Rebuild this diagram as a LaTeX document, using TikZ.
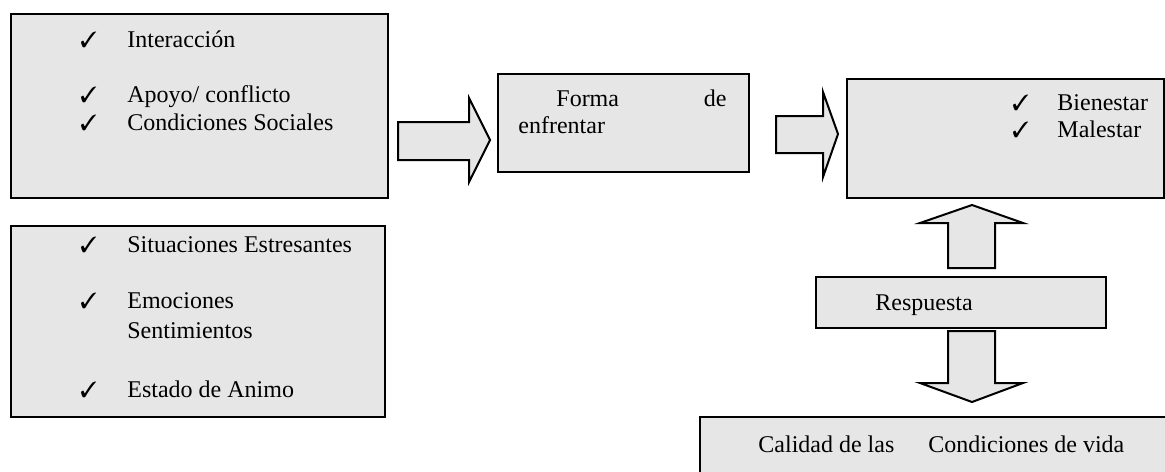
\documentclass[tikz,border=0pt]{standalone}
\usepackage{fontspec}
\setmainfont{Liberation Serif}
\usepackage{pifont}
\usepackage{tikz}
\usetikzlibrary{positioning}

\definecolor{boxgray}{HTML}{E6E6E6}
\newcommand{\chk}{\ding{51}}

\tikzset{
	box/.style={draw, line width=1pt, fill=boxgray, inner sep=0pt, anchor=north west},
	txt/.style={anchor=base west, inner sep=0pt, font=\fontsize{12}{14}\selectfont},
	chkmark/.style={anchor=base west, inner sep=0pt, font=\fontsize{11}{14}\selectfont},
	blockarrow/.style={draw, line width=1pt, fill=boxgray, line join=miter}
}

\begin{document}
\begin{tikzpicture}[x=0.5pt,y=-0.5pt]
		\useasboundingbox (0,0) rectangle (1165,471);
		\clip (0,0) rectangle (1165,471);
		% cajas
		\node[box, minimum width=188.5pt, minimum height=92pt] (social) at (10,13) {};
		\node[box, minimum width=187pt, minimum height=95.5pt] (estres) at (10,225) {};
		\node[box, minimum width=125.5pt, minimum height=49pt] (forma) at (497,73) {};
		\node[box, minimum width=158.5pt, minimum height=59.5pt] (estado) at (846,78) {};
		\node[box, minimum width=145pt, minimum height=25.5pt] (respuesta) at (815,276) {};
		\node[box, minimum width=250pt, minimum height=40pt] (calidad) at (699,416) {};
		% textos
		\node[chkmark] (c1) at (80,47) {\chk};
		\node[txt] (t1) at (127,47) {Interacción};
		\node[chkmark] (c2) at (80,102) {\chk};
		\node[txt] (t2) at (127,102) {Apoyo/ conflicto};
		\node[chkmark] (c3) at (80,130) {\chk};
		\node[txt] (t3) at (127,130) {Condiciones Sociales};
		\node[chkmark] (c4) at (80,252) {\chk};
		\node[txt] (t4) at (127,252) {Situaciones Estresantes};
		\node[chkmark] (c5) at (80,308) {\chk};
		\node[txt] (t5) at (127,308) {Emociones};
		\node[txt] (t6) at (127,338) {Sentimientos};
		\node[chkmark] (c7) at (80,397) {\chk};
		\node[txt] (t7) at (127,397) {Estado de Animo};
		\node[txt] (f1) at (556,106) {Forma};
		\node[txt, anchor=base east] (f2) at (727,106) {de};
		\node[txt] (f3) at (518,133) {enfrentar};
		\node[chkmark] (c8) at (1012,110) {\chk};
		\node[txt] (b1) at (1057,110) {Bienestar};
		\node[chkmark] (c9) at (1012,137) {\chk};
		\node[txt] (b2) at (1057,137) {Malestar};
		\node[txt] (r1) at (875,310) {Respuesta};
		\node[txt] (q1) at (758,452) {Calidad de las};
		\node[txt] (q2) at (928,452) {Condiciones de vida};
		% flechas
		\draw[blockarrow] (398,122) -- (469,122) -- (469,98) -- (490,140) -- (469,182) -- (469,160) -- (398,160) -- cycle;
		\draw[blockarrow] (776,116) -- (823,116) -- (823,92) -- (838,134) -- (823,177) -- (823,153) -- (776,153) -- cycle;
		\draw[blockarrow] (948,268) -- (948,223) -- (920,223) -- (972,205) -- (1023,223) -- (995,223) -- (995,268) -- cycle;
		\draw[blockarrow] (948,331) -- (948,383) -- (920,383) -- (972,402) -- (1023,383) -- (995,383) -- (995,331) -- cycle;
	\end{tikzpicture}
\end{document}
